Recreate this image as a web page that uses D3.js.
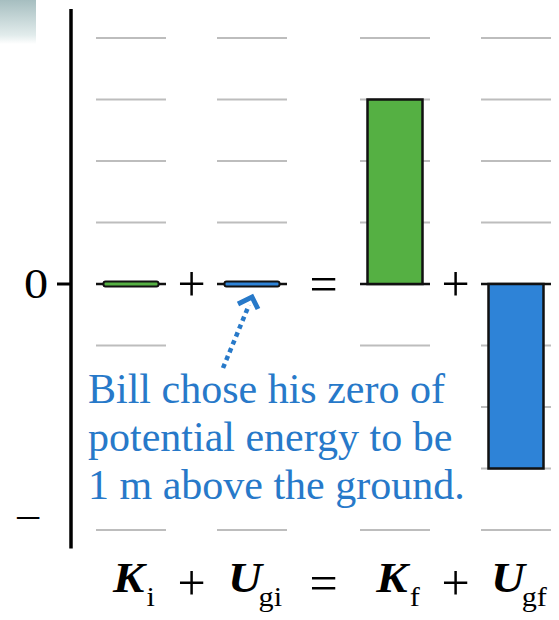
<!DOCTYPE html>
<html>
<head>
<meta charset="utf-8">
<script src="https://cdn.jsdelivr.net/npm/d3@7"></script>
<style>
  html, body { margin: 0; padding: 0; background: #fff; }
  svg { display: block; }
  text { font-family: "Liberation Serif", "Times New Roman", serif; }
</style>
</head>
<body>
<svg id="chart" width="559" height="620"></svg>
<script>
// Energy bar chart: K_i + U_gi = K_f + U_gf (arbitrary energy units)
const terms = ["Ki", "Ugi", "Kf", "Ugf"];
const symbols = ["K", "U", "K", "U"];
const subscripts = ["i", "gi", "f", "gf"];
const values = [0, 0, 3, -3];
const kinds = ["kinetic", "potential", "kinetic", "potential"];
const operators = ["+", "=", "+"];
const gridLevels = [-4, -3, -2, -1, 0, 1, 2, 3, 4];
const tickValues = [0, -3.8];
const tickLabels = ["0", "\u2212"];
const noteLines = ["Bill chose his zero of", "potential energy to be", "1 m above the ground."];

const colors = { kinetic: "#55b043", potential: "#2e83d7" };
const noteColor = "#2779c9";

const svg = d3.select("#chart");

// corner smudge
const defs = svg.append("defs");
const grad = defs.append("linearGradient").attr("id", "corner").attr("x1", 0).attr("y1", 0).attr("x2", 0).attr("y2", 1);
grad.append("stop").attr("offset", "0%").attr("stop-color", "#a6bec0");
grad.append("stop").attr("offset", "80%").attr("stop-color", "#e2ecec");
grad.append("stop").attr("offset", "100%").attr("stop-color", "#ffffff");
svg.append("rect").attr("x", 0).attr("y", 0).attr("width", 36).attr("height", 44).attr("fill", "url(#corner)");

// layout: columns separated by operator gaps
const colWidth = 70, barWidth = 55, firstCol = 96;
const gapFor = { "+": 51, "=": 73 };
const starts = [firstCol];
operators.forEach((op, i) => starts.push(starts[i] + colWidth + gapFor[op]));

const x = d3.scaleOrdinal().domain(terms).range(starts);
const y = d3.scaleLinear().domain([-4, 4]).range([530, 38]);
const cx = t => x(t) + colWidth / 2;

// grid dashes for every column
const gridG = svg.append("g");
terms.forEach(t => {
  gridG.selectAll(null).data(gridLevels.filter(v => v !== 0)).join("line")
    .attr("x1", x(t)).attr("x2", x(t) + colWidth)
    .attr("y1", d => y(d)).attr("y2", d => y(d))
    .attr("stroke", "#bdbdbd").attr("stroke-width", 2);
});

// note backing so the text reads cleanly over the grid
const noteX = 88, noteBase = y(-1) + 57.5, noteLead = 48;
svg.append("rect").attr("x", noteX - 4).attr("y", noteBase - 33)
  .attr("width", 390).attr("height", noteLead * 2 + 44).attr("fill", "#fff");
svg.append("rect").attr("x", cx("Ugi") - 40).attr("y", y(0) + 12)
  .attr("width", 80).attr("height", noteBase - 33 - y(0) - 12).attr("fill", "#fff");

// zero baseline per column
svg.append("g").selectAll("line").data(terms).join("line")
  .attr("x1", d => x(d)).attr("x2", d => x(d) + colWidth)
  .attr("y1", y(0)).attr("y2", y(0))
  .attr("stroke", "#111").attr("stroke-width", 2.5);

// bars
const data = terms.map((t, i) => ({ t, v: values[i], kind: kinds[i] }));
svg.append("g").selectAll("rect").data(data).join("rect")
  .attr("x", d => x(d.t) + (colWidth - barWidth) / 2)
  .attr("width", barWidth)
  .attr("y", d => d.v === 0 ? y(0) - 2.5 : Math.min(y(d.v), y(0)))
  .attr("height", d => d.v === 0 ? 5 : Math.abs(y(d.v) - y(0)))
  .attr("rx", d => d.v === 0 ? 2 : 0)
  .attr("fill", d => colors[d.kind])
  .attr("stroke", "#111").attr("stroke-width", d => d.v === 0 ? 2 : 2.5);

// vertical axis
svg.append("line").attr("x1", 71).attr("x2", 71)
  .attr("y1", y(4.47)).attr("y2", y(-4.3))
  .attr("stroke", "#000").attr("stroke-width", 3.5);
svg.append("line").attr("x1", 57).attr("x2", 71)
  .attr("y1", y(0)).attr("y2", y(0))
  .attr("stroke", "#000").attr("stroke-width", 3);
svg.append("g").selectAll("text").data(tickValues).join("text")
  .attr("transform", d => `translate(${d === 0 ? 36 : 28},${y(d)}) scale(1.15,1)`)
  .attr("text-anchor", "middle").attr("dominant-baseline", "central")
  .attr("font-size", 42).attr("fill", "#000")
  .text((d, i) => tickLabels[i]);

// operators between columns, in the chart and in the equation below
const opX = operators.map((op, i) => (x(terms[i]) + colWidth + x(terms[i + 1])) / 2);
[y(0), 583].forEach(yy => {
  svg.append("g").selectAll("text").data(operators).join("text")
    .attr("x", (d, i) => opX[i]).attr("y", yy)
    .attr("text-anchor", "middle").attr("dominant-baseline", "central")
    .attr("font-size", 50).attr("fill", "#000")
    .text(d => d);
});

// equation symbols under the columns
const eq = svg.append("g").selectAll("text").data(terms).join("text")
  .attr("transform", d => `translate(${cx(d) + 3},592) scale(1.12,1)`)
  .attr("text-anchor", "middle").attr("fill", "#000");
eq.append("tspan").attr("font-size", 42).attr("font-style", "italic").attr("font-weight", "bold")
  .text((d, i) => symbols[i]);
eq.append("tspan").attr("font-size", 27).attr("dy", 14)
  .attr("dx", (d, i) => symbols[i] === "K" ? 2 : -3)
  .text((d, i) => subscripts[i]);

// annotation
svg.append("g").selectAll("text").data(noteLines).join("text")
  .attr("x", noteX).attr("y", (d, i) => noteBase + i * noteLead)
  .attr("font-size", 42).attr("fill", noteColor)
  .text(d => d);

// dotted arrow pointing at the Ugi bar
const tip = [cx("Ugi"), y(0) + 13];
const tail = [cx("Ugi") - 29, noteBase - 35];
svg.append("line").attr("x1", tail[0]).attr("y1", tail[1]).attr("x2", tip[0] - 3).attr("y2", tip[1] + 8)
  .attr("stroke", noteColor).attr("stroke-width", 4.5).attr("stroke-dasharray", "4.5 4");
svg.append("path")
  .attr("d", `M${tip[0] - 14},${tip[1] + 7} L${tip[0]},${tip[1]} L${tip[0] + 6},${tip[1] + 12}`)
  .attr("fill", "none").attr("stroke", noteColor).attr("stroke-width", 5)
  .attr("stroke-linejoin", "miter");
</script>
</body>
</html>
